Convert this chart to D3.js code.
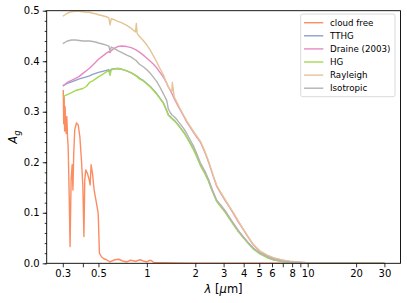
<!DOCTYPE html>
<html>
<head>
<meta charset="utf-8">
<script src="https://cdn.jsdelivr.net/npm/d3@7"></script>
<style>
  body { margin: 0; background: #fff; }
  svg { display: block; font-family: "DejaVu Sans", sans-serif; }
</style>
</head>
<body>
<script>
// wavelength grid (um) shared by the cloudy models
var lam = [0.30, 0.32, 0.34, 0.36, 0.38, 0.40, 0.42, 0.44, 0.46, 0.48,
  0.50, 0.53, 0.56, 0.58, 0.59, 0.60, 0.63, 0.66, 0.70, 0.75,
  0.80, 0.85, 0.86, 0.87, 0.90, 0.95, 1.00, 1.05, 1.10, 1.15,
  1.20, 1.27, 1.33, 1.36, 1.40, 1.43, 1.44, 1.48, 1.54, 1.61,
  1.70, 1.77, 1.86, 1.95, 2.05, 2.15, 2.30, 2.42, 2.55, 2.72,
  2.90, 3.07, 3.25, 3.46, 3.70, 3.99, 4.30, 4.60, 5.07, 5.60,
  6.13, 7.00, 7.80, 9.90, 13.0, 20.0, 30.0];

var tthg = [.351, .356, .359, .362, .365, .367, .369, .371, .374, .376,
  .378, .380, .382, .383, .379, .384, .385, .385, .384, .381,
  .377, .372, .371, .370, .366, .362, .356, .350, .343, .336,
  .328, .317, .302, .294, .290, .287, .286, .283, .277, .269,
  .259, .250, .238, .226, .211, .195, .178, .163, .144, .123,
  .112, .102, .090, .077, .064, .051, .039, .029, .019, .012,
  .007, .004, .002, .0006, .0002, 0, 0];

var draine = [.351, .358, .362, .366, .370, .376, .381, .386, .392, .398,
  .404, .410, .416, .419, .417, .421, .426, .429, .430, .429,
  .427, .423, .422, .421, .418, .412, .406, .400, .394, .387,
  .379, .368, .356, .349, .342, .336, .334, .326, .315, .304,
  .290, .280, .269, .259, .249, .240, .219, .200, .178, .152,
  .137, .124, .112, .098, .082, .066, .050, .036, .023, .015,
  .010, .006, .003, .001, .0003, 0, 0];

var hg = [.330, .334, .338, .342, .344, .346, .350, .358, .361, .365,
  .369, .374, .379, .381, .372, .383, .385, .386, .384, .381,
  .377, .372, .371, .369, .365, .361, .355, .349, .342, .335,
  .327, .316, .301, .293, .289, .287, .285, .282, .276, .268,
  .258, .249, .237, .225, .210, .194, .177, .162, .143, .122,
  .111, .101, .089, .076, .063, .050, .038, .028, .018, .011,
  .007, .003, .0015, .0005, .0001, 0, 0];

var rayleigh = [.489, .495, .498, .499, .499, .498, .497, .497, .495, .494,
  .492, .490, .488, .486, .472, .484, .482, .479, .476, .471,
  .465, .458, .475, .455, .449, .441, .432, .422, .410, .399,
  .387, .372, .356, .349, .343, .340, .358, .329, .318, .306,
  .292, .282, .271, .261, .251, .242, .221, .202, .180, .154,
  .139, .126, .113, .100, .084, .067, .051, .037, .024, .016,
  .011, .006, .004, .001, .0003, 0, 0];

var isotropic = [.435, .440, .442, .442, .441, .440, .440, .440, .439, .438,
  .436, .434, .432, .430, .420, .428, .425, .421, .417, .412,
  .408, .402, .401, .399, .394, .389, .383, .376, .368, .360,
  .350, .335, .322, .305, .298, .294, .293, .290, .284, .276,
  .266, .257, .244, .232, .216, .199, .182, .166, .146, .125,
  .114, .104, .092, .079, .065, .052, .040, .030, .020, .013,
  .008, .004, .002, .0007, .0002, 0, 0];

// cloud free spectrum has its own grid
var lamClear = [0.302, 0.304, 0.306, 0.308, 0.310, 0.312, 0.315, 0.318, 0.321, 0.324,
  0.329, 0.333, 0.338, 0.343, 0.347, 0.351, 0.356, 0.365, 0.374, 0.383,
  0.392, 0.400, 0.406, 0.411, 0.417, 0.427, 0.438, 0.444, 0.450, 0.459,
  0.470, 0.486, 0.498, 0.507, 0.522, 0.54, 0.561, 0.589, 0.632, 0.67,
  0.715, 0.75, 0.79, 0.85, 0.91, 0.96, 1.0, 1.04, 1.07, 1.11,
  1.15, 1.25, 1.5, 2, 3, 5, 10, 30];
var cloudFree = [.343, .276, .330, .262, .310, .290, .257, .290, .250, .231,
  .132, .033, .165, .195, .145, .218, .264, .278, .274, .251,
  .204, .152, .053, .165, .185, .178, .165, .155, .195, .178,
  .145, .119, .099, .020, .013, .009, .007, .003, .007, .008,
  .004, .003, .006, .004, .007, .004, .003, .006, .005, .001,
  .001, .001, .0005, .0003, .0001, 0, 0, 0];

var names = ["cloud free", "TTHG", "Draine (2003)", "HG", "Rayleigh", "Isotropic"];
var colors = ["#fc8d62", "#8da0cb", "#e78ac3", "#a6d854", "#e5c494", "#b3b3b3"];

var xTicks = [0.3, 0.4, 0.5, 1, 2, 3, 4, 5, 6, 7, 8, 9, 10, 20, 30];
var xLabels = ["0.3", "", "0.5", "1", "2", "3", "4", "5", "6", "", "8", "", "10", "20", "30"];
var yTicks = [0, 0.1, 0.2, 0.3, 0.4, 0.5];

var series = [
  { x: lamClear, y: cloudFree },
  { x: lam, y: tthg },
  { x: lam, y: draine },
  { x: lam, y: hg },
  { x: lam, y: rayleigh },
  { x: lam, y: isotropic }
];

var W = 407, H = 303;
var pL = 46.7, pR = 400.5, pT = 10.7, pB = 263.3;

var x = d3.scaleLog().domain([0.3 / Math.pow(10, 0.1), 30 * Math.pow(10, 0.1)]).range([pL, pR]);
var y = d3.scaleLinear().domain([0, 0.5]).range([pB, pT]);

var svg = d3.select("body").append("svg").attr("width", W).attr("height", H);

svg.append("defs").append("clipPath").attr("id", "clip")
  .append("rect").attr("x", pL).attr("y", pT)
  .attr("width", pR - pL).attr("height", pB - pT);

var line = d3.line()
  .x(function (d) { return x(d[0]); })
  .y(function (d) { return y(d[1]); });

svg.append("g").attr("clip-path", "url(#clip)")
  .selectAll("path")
  .data(series)
  .enter()
  .append("path")
  .attr("d", function (s) { return line(s.x.map(function (v, i) { return [v, s.y[i]]; })); })
  .attr("fill", "none")
  .attr("stroke", function (s, i) { return colors[i]; })
  .attr("stroke-width", 1.4)
  .attr("stroke-linejoin", "round");

// x axis
var xAxis = svg.append("g").attr("transform", "translate(0," + pB + ")")
  .call(d3.axisBottom(x).tickValues(xTicks)
    .tickFormat(function (d, i) { return xLabels[i]; })
    .tickSize(4).tickPadding(3));
xAxis.selectAll("text").attr("font-size", "10px").attr("fill", "#000")
  .attr("font-family", "DejaVu Sans");

// y axis, minor ticks first
svg.append("g").attr("transform", "translate(" + pL + ",0)")
  .call(d3.axisLeft(y).tickValues(d3.range(0, 0.501, 0.02)).tickFormat("").tickSize(2));
var yAxis = svg.append("g").attr("transform", "translate(" + pL + ",0)")
  .call(d3.axisLeft(y).tickValues(yTicks).tickFormat(d3.format(".1f")).tickSize(4).tickPadding(3));
yAxis.selectAll("text").attr("font-size", "10px").attr("fill", "#000")
  .attr("font-family", "DejaVu Sans");

svg.selectAll(".domain").remove();
svg.selectAll(".tick line").attr("stroke", "#000").attr("stroke-width", 0.8);

// frame
svg.append("rect")
  .attr("x", pL).attr("y", pT)
  .attr("width", pR - pL).attr("height", pB - pT)
  .attr("fill", "none").attr("stroke", "#000").attr("stroke-width", 0.9);

// axis labels
var xl = svg.append("text")
  .attr("x", (pL + pR) / 2).attr("y", 293)
  .attr("text-anchor", "middle").attr("font-size", "11.5px");
xl.append("tspan").attr("font-style", "italic").text("λ");
xl.append("tspan").text(" [");
xl.append("tspan").attr("font-style", "italic").text("μ");
xl.append("tspan").text("m]");

var yl = svg.append("text")
  .attr("transform", "translate(17," + ((pT + pB) / 2) + ") rotate(-90)")
  .attr("text-anchor", "middle").attr("font-size", "11.5px");
yl.append("tspan").attr("font-style", "italic").text("A");
yl.append("tspan").attr("font-style", "italic").attr("font-size", "8.5px").attr("dy", 3).text("g");

// legend
var lg = svg.append("g");
lg.append("rect")
  .attr("x", 300.7).attr("y", 14).attr("width", 94.3).attr("height", 82.7)
  .attr("rx", 2).attr("fill", "#fff").attr("fill-opacity", 0.8)
  .attr("stroke", "#d6d6d6").attr("stroke-width", 0.9);
var item = lg.selectAll("g.item")
  .data(names)
  .enter()
  .append("g")
  .attr("class", "item")
  .attr("transform", function (d, i) { return "translate(0," + (22.7 + i * 13.1) + ")"; });
item.append("line")
  .attr("x1", 304).attr("x2", 323.3)
  .attr("stroke", function (d, i) { return colors[i]; })
  .attr("stroke-width", 1.4);
item.append("text")
  .attr("x", 330).attr("y", 3)
  .attr("font-size", "8.7px")
  .text(function (d) { return d; });
</script>
</body>
</html>
